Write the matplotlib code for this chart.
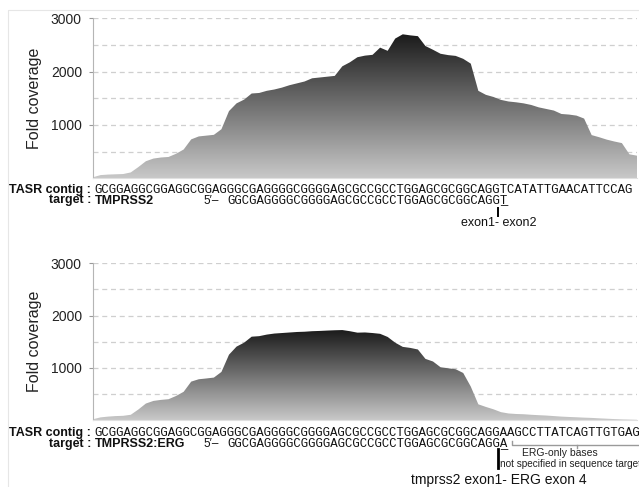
import matplotlib
matplotlib.use("Agg")
import matplotlib.pyplot as plt
import numpy as np
from matplotlib.colors import LinearSegmentedColormap

plt.rcParams['font.family'] = ['Liberation Sans', 'DejaVu Sans']

# coverage per base along the TASR contig
top_cov = [20, 60, 70, 75, 80, 110, 210, 320, 370, 390,
           400, 460, 540, 730, 785, 800, 815, 920, 1260, 1405,
           1475, 1590, 1600, 1640, 1665, 1700, 1745, 1780, 1815, 1875,
           1890, 1905, 1920, 2100, 2175, 2270, 2300, 2315, 2450, 2390,
           2620, 2700, 2680, 2665, 2480, 2410, 2335, 2310, 2295, 2240,
           2150, 1640, 1565, 1525, 1470, 1440, 1425, 1405, 1375, 1330,
           1300, 1270, 1206, 1195, 1175, 1120, 810, 770, 725, 690,
           660, 450, 424]
bottom_cov = [15, 50, 65, 75, 80, 100, 200, 315, 365, 385,
              398, 460, 540, 735, 780, 795, 812, 920, 1250, 1405,
              1480, 1595, 1605, 1635, 1655, 1665, 1675, 1685, 1690, 1700,
              1705, 1712, 1718, 1722, 1700, 1672, 1676, 1665, 1650, 1590,
              1480, 1400, 1380, 1350, 1170, 1120, 1010, 990, 972, 900,
              640, 300, 250, 205, 150, 125, 115, 110, 100, 92,
              85, 75, 65, 58, 52, 45, 40, 32, 25, 18,
              12, 8, 4]

contig_top = "GCGGAGGCGGAGGCGGAGGGCGAGGGGCGGGGAGCGCCGCCTGGAGCGCGGCAGGTCATATTGAACATTCCAG"
contig_bottom = "GCGGAGGCGGAGGCGGAGGGCGAGGGGCGGGGAGCGCCGCCTGGAGCGCGGCAGGAAGCCTTATCAGTTGTGAG"
target_top = "GGCGAGGGGCGGGGAGCGCCGCCTGGAGCGCGGCAGGT"
target_bottom = "GGCGAGGGGCGGGGAGCGCCGCCTGGAGCGCGGCAGGA"
target_names = ["TMPRSS2", "TMPRSS2:ERG"]
target_start = 18
junction = 55

yticks = [1000, 2000, 3000]
grid_levels = [500, 1000, 1500, 2000, 2500, 3000]

W, H = 639, 487
fig = plt.figure(figsize=(W / 100, H / 100), dpi=100)

cmap = LinearSegmentedColormap.from_list('cov', ['#c8c8c8', '#1b1b1b'])


def coverage_panel(rect, cov):
    ax = fig.add_axes(rect)
    x = np.arange(len(cov))
    cov = np.array(cov, dtype=float)
    for g in grid_levels:
        ax.axhline(g, color='#cfcfcf', lw=0.9, ls=(0, (4, 3)), zorder=1)
    poly = ax.fill_between(x, cov, 0, color='none', lw=0)
    grad = np.linspace(0, 1, 256).reshape(-1, 1)
    im = ax.imshow(grad, extent=[x[0], x[-1], 0, cov.max()], origin='lower',
                   aspect='auto', cmap=cmap, zorder=2, interpolation='bilinear')
    im.set_clip_path(poly.get_paths()[0], transform=ax.transData)
    ax.set_xlim(0, len(cov) - 1)
    ax.set_ylim(0, 3000)
    ax.set_xticks([])
    ax.set_yticks(yticks)
    ax.tick_params(axis='y', length=3, width=0.8, color='#999999',
                   labelsize=10, labelcolor='#222222', pad=5)
    for s in ['top', 'right']:
        ax.spines[s].set_visible(False)
    ax.spines['bottom'].set_color('#e0e0e0')
    ax.spines['left'].set_color('#b5b5b5')
    ax.set_ylabel('Fold coverage', fontsize=11.5, color='#222222')
    ax.yaxis.set_label_coords(-0.094, 0.5)
    ax.set_facecolor('none')
    return ax


ax1 = coverage_panel([93 / W, 1 - 178.3 / H, 544 / W, 160 / H], top_cov)
ax2 = coverage_panel([93 / W, 1 - 420 / H, 544 / W, 156.7 / H], bottom_cov)

# overlay in pixel coordinates for the sequence rows and notes
ov = fig.add_axes([0, 0, 1, 1], zorder=5)
ov.set_xlim(0, W)
ov.set_ylim(H, 0)
ov.axis('off')
ov.add_patch(plt.Rectangle((8, 10), 700, 600, fill=False, ec='#e6e6e6', lw=0.8))

x0 = 94.3
cw = 7.42
mono = dict(family='Liberation Mono', fontsize=8.9, color='#111111')
bold = dict(fontsize=9, fontweight='bold', color='#111111')


def seq_rows(contig, target, name, y_contig, y_target):
    ov.text(91, y_contig, 'TASR contig :', ha='right', va='baseline', **bold)
    ov.text(x0, y_contig, contig, ha='left', va='baseline', **mono)
    ov.text(91, y_target, 'target :', ha='right', va='baseline', **bold)
    ov.text(95, y_target, name, ha='left', va='baseline', **bold)
    ov.text(x0 + target_start * cw - 9, y_target, "5\u2032\u2013", ha='right',
            va='baseline', fontsize=8.5, color='#111111')
    tx = x0 + target_start * cw
    ov.text(tx, y_target, target, ha='left', va='baseline', **mono)
    # underline the junction base with an underscore in the same mono font
    ov.text(tx, y_target, ' ' * (junction - target_start) + '_', ha='left',
            va='baseline', **mono)


seq_rows(contig_top, target_top, target_names[0], 193, 203.5)
seq_rows(contig_bottom, target_bottom, target_names[1], 436, 447)

# top junction note
jx = x0 + junction * cw - 4
ov.plot([jx, jx], [208, 216], color='black', lw=1.4)
ov.text(jx, 223, 'exon1- exon2', ha='center', va='center', fontsize=9, color='#111111')

# bottom junction note
ov.plot([jx, jx], [449, 468], color='black', lw=2)
ov.text(jx, 480, 'tmprss2 exon1- ERG exon 4', ha='center', va='center',
        fontsize=10, color='#111111')

# bracket for ERG-only bases
ov.plot([512, 512, 660], [441, 445, 445], color='#9a9a9a', lw=1)
ov.plot([577, 577], [445, 448], color='#9a9a9a', lw=1)
ov.text(560, 453.5, 'ERG-only bases', ha='center', va='center', fontsize=7.5, color='#222222')
ov.text(570, 464, 'not specified in sequence target', ha='center', va='center',
        fontsize=7.2, color='#222222')

fig.savefig('out.png', dpi=100)
